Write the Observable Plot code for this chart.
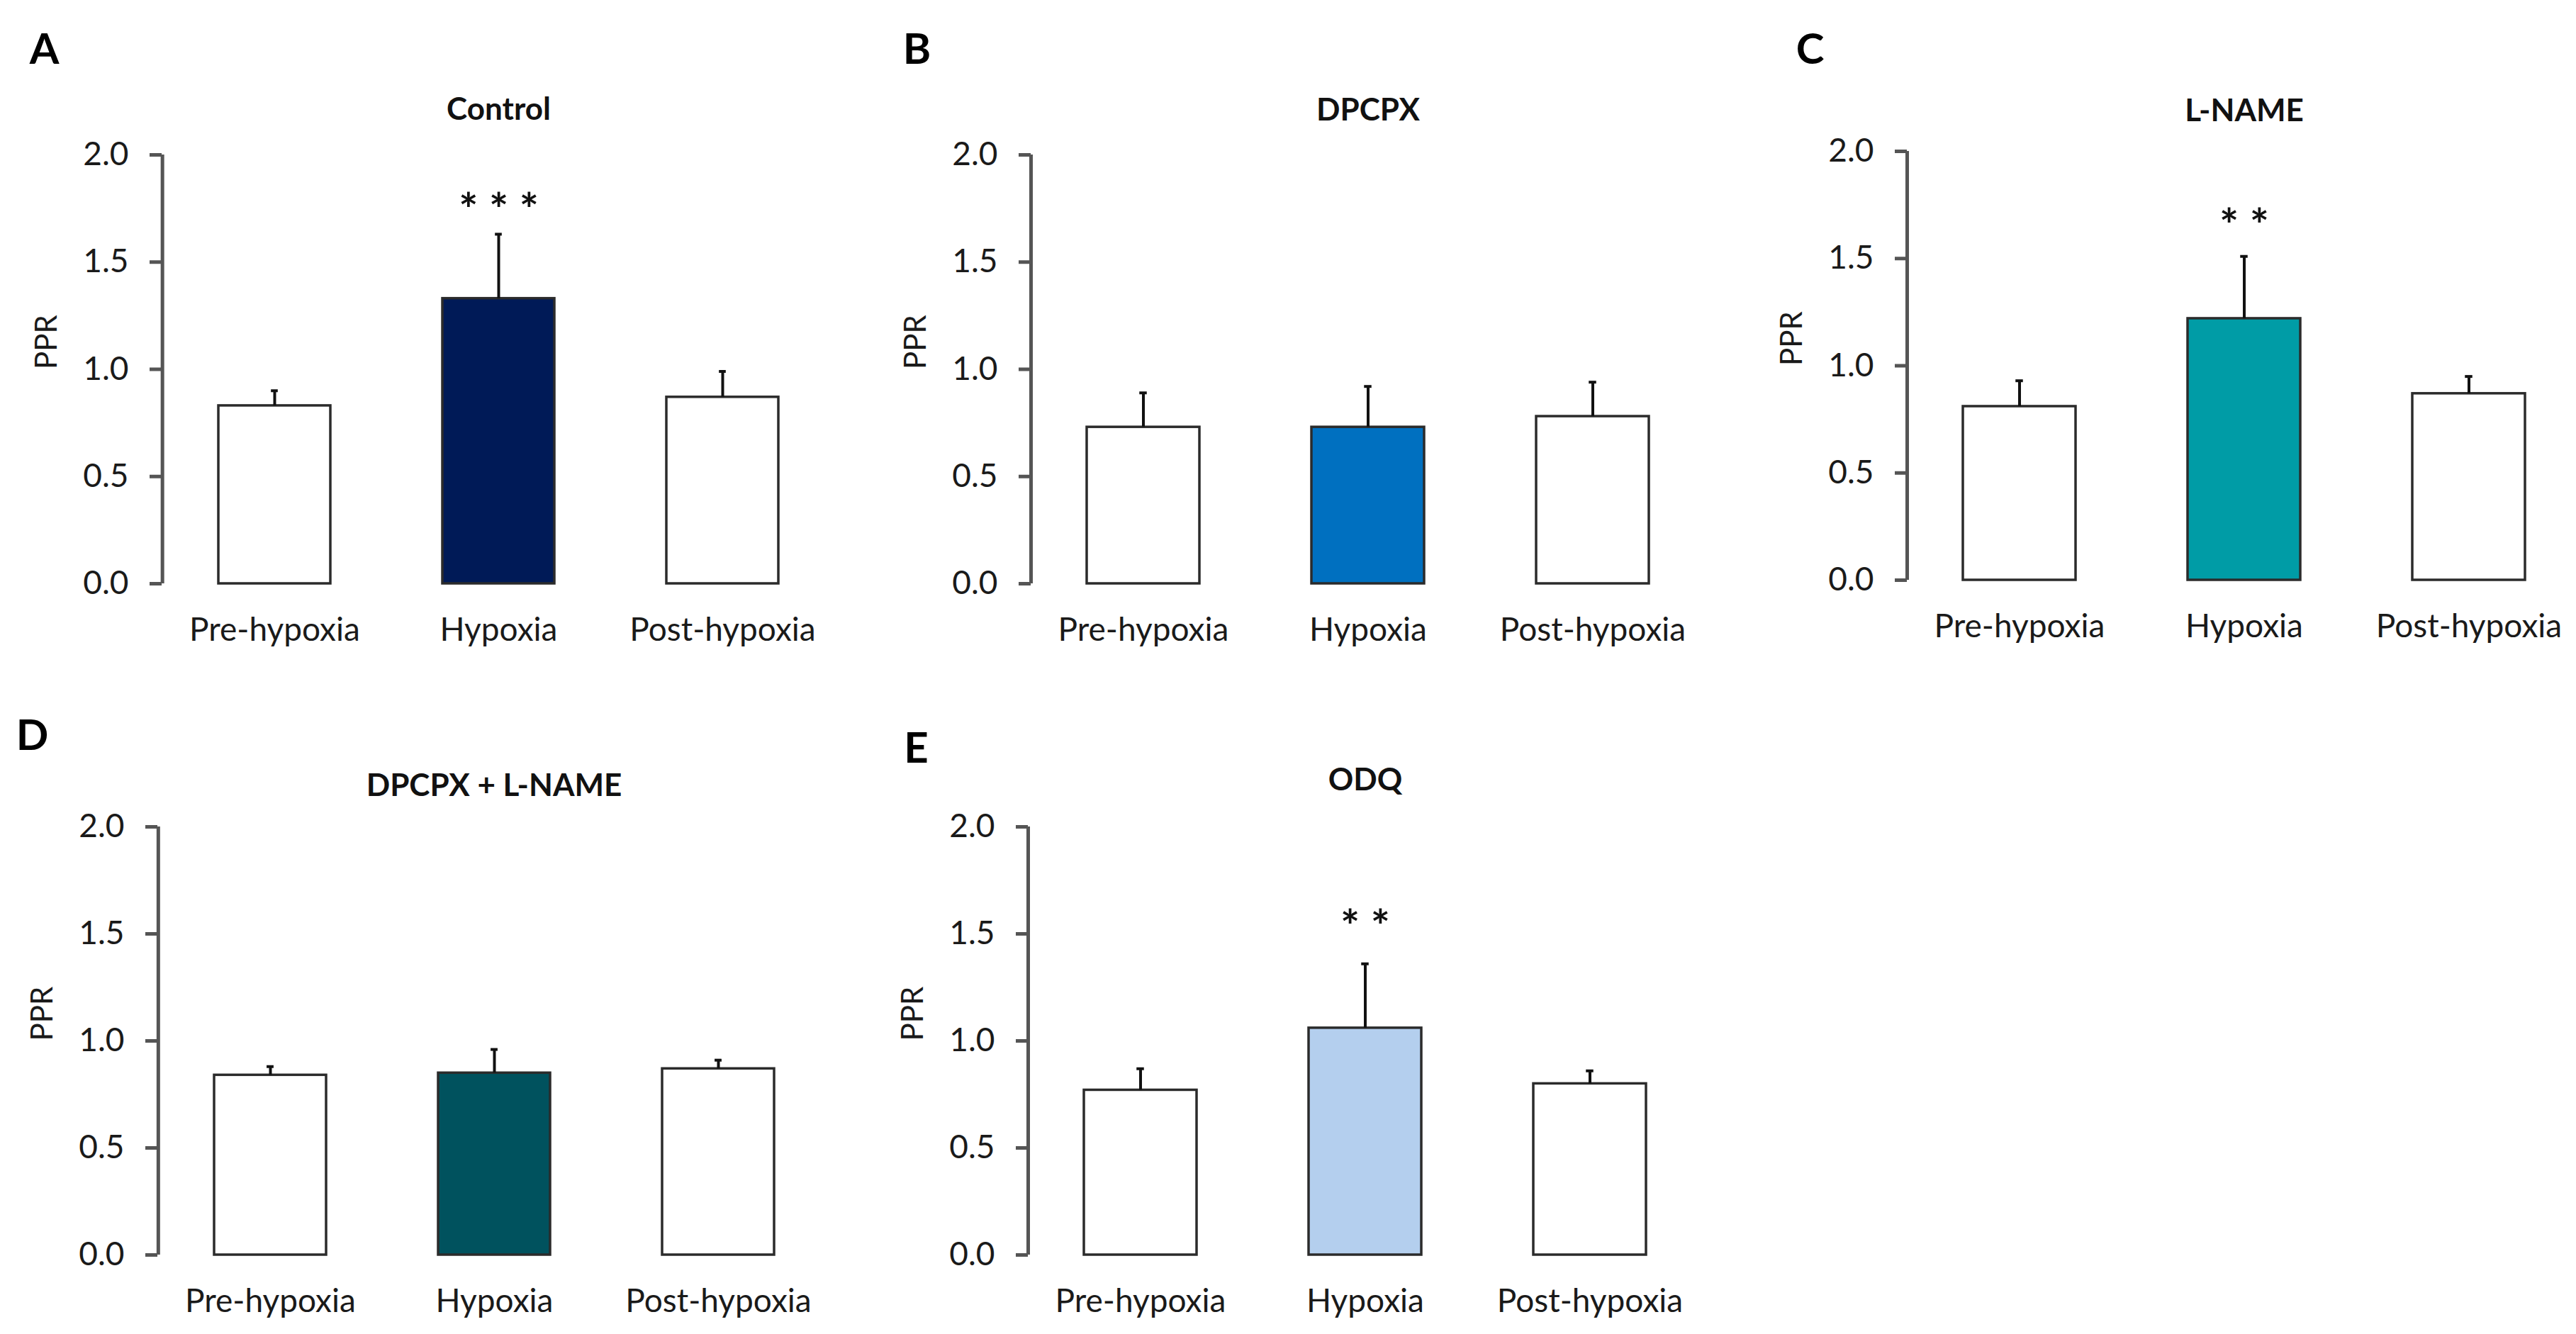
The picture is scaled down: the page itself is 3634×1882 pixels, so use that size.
<!DOCTYPE html>
<html>
<head>
<meta charset="utf-8">
<script src="https://cdn.jsdelivr.net/npm/d3@7"></script>
<script src="https://cdn.jsdelivr.net/npm/@observablehq/plot@0.6"></script>
<style>
html, body { margin: 0; padding: 0; background: #fff; overflow: hidden; }
#fig { position: relative; width: 3634px; height: 1882px; overflow: hidden; background: #fff; }
#fig svg { position: absolute; overflow: visible; }
#fig g[aria-label="y-axis tick"], #fig g[aria-label="y-axis"] path, #fig g[aria-label="y-axis"] line { stroke: #555; stroke-width: 5px; }
</style>
</head>
<body>
<div id="fig"></div>
<script>
// ---- data ----
const categories = ["Pre-hypoxia", "Hypoxia", "Post-hypoxia"];
const panelLetters = ["A", "B", "C", "D", "E"];
const panelTitles = ["Control", "DPCPX", "L-NAME", "DPCPX + L-NAME", "ODQ"];
const meansA = [0.83, 1.33, 0.87];
const meansB = [0.73, 0.73, 0.78];
const meansC = [0.81, 1.22, 0.87];
const meansD = [0.84, 0.85, 0.87];
const meansE = [0.77, 1.06, 0.80];
const semA = [0.07, 0.30, 0.12];
const semB = [0.16, 0.19, 0.16];
const semC = [0.12, 0.29, 0.08];
const semD = [0.04, 0.11, 0.04];
const semE = [0.10, 0.30, 0.06];
const hypoxiaColors = ["#001A57", "#0070C0", "#009CA6", "#00525E", "#B4CFEE"];
const significance = ["***", "", "**", "", "**"];
const significanceY = [1.79, null, 1.70, null, 1.58];
const yTicks = [0, 0.5, 1.0, 1.5, 2.0];
const yLabel = "PPR";

const means = [meansA, meansB, meansC, meansD, meansE];
const sems = [semA, semB, semC, semD, semE];

// ---- layout (pixels) ----
const layout = [
  {rangeStart: 228,  rangeEnd: 1178, y2: 218,  y0: 823,  rowTop: 0,   titleY: 154,  letterX: 62,   letterY: 70},
  {rangeStart: 1454, rangeEnd: 2405, y2: 218,  y0: 823,  rowTop: 0,   titleY: 155,  letterX: 1293, letterY: 70},
  {rangeStart: 2690, rangeEnd: 3641, y2: 213,  y0: 818,  rowTop: 0,   titleY: 156,  letterX: 2553, letterY: 70},
  {rangeStart: 222,  rangeEnd: 1171, y2: 1166, y0: 1770, rowTop: 941, titleY: 1108, letterX: 45,   letterY: 1038},
  {rangeStart: 1450, rangeEnd: 2401, y2: 1166, y0: 1770, rowTop: 941, titleY: 1100, letterX: 1292, letterY: 1056}
];
const rowHeight = 941;
const fontFamily = "Lato, 'Open Sans', sans-serif";

const fig = document.getElementById("fig");

panelLetters.forEach((letter, i) => {
  const L = layout[i];
  const data = categories.map((c, j) => ({cat: c, mean: means[i][j], top: means[i][j] + sems[i][j]}));
  const mL = 200, mR = 20;
  const span = L.rangeEnd - L.rangeStart;
  const width = mL + span + mR;
  const step = span / 3;
  const bw = step * 0.5;
  const capInset = (bw - 10) / 2;

  const marks = [
    Plot.barY(data.filter(d => d.cat !== categories[1]), {x: "cat", y: "mean", fill: "#ffffff", stroke: "#2b2b2b", strokeWidth: 3.5}),
    Plot.barY(data.filter(d => d.cat === categories[1]), {x: "cat", y: "mean", fill: hypoxiaColors[i], stroke: "#2b2b2b", strokeWidth: 3.5}),
    Plot.ruleX(data, {x: "cat", y1: "mean", y2: "top", stroke: "#111", strokeWidth: 4}),
    Plot.tickY(data, {x: "cat", y: "top", stroke: "#111", strokeWidth: 4, insetLeft: capInset, insetRight: capInset}),
    Plot.ruleX([categories[0]], {x: d => d, y1: yTicks[0], y2: yTicks[yTicks.length - 1], dx: -step / 2, stroke: "#555", strokeWidth: 5}),
    Plot.text([panelTitles[i]], {frameAnchor: "top", lineAnchor: "middle", dy: L.titleY - L.y2, fontWeight: "bold", fontSize: 44, fill: "#111"}),
    Plot.text([letter], {frameAnchor: "top-left", lineAnchor: "middle", textAnchor: "middle", dx: L.letterX - L.rangeStart, dy: L.letterY - L.y2, fontWeight: "bold", fontSize: 60, fill: "#000"}),
    Plot.text([yLabel], {frameAnchor: "left", lineAnchor: "middle", dx: -162, rotate: -90, fontSize: 42, fill: "#1a1a1a"})
  ];
  if (significance[i]) {
    marks.push(Plot.text([significance[i]], {
      x: () => categories[1], y: () => significanceY[i], dy: 16, lineAnchor: "middle",
      fontSize: 64, fontWeight: "bold", fill: "#111",
      text: d => d.split("").join("\u00a0")
    }));
  }

  const chart = Plot.plot({
    width,
    height: rowHeight,
    marginLeft: mL,
    marginRight: mR,
    marginTop: L.y2 - L.rowTop,
    marginBottom: L.rowTop + rowHeight - L.y0,
    style: {fontFamily, fontSize: "46px", color: "#1a1a1a", background: "transparent", overflow: "visible"},
    x: {domain: categories, paddingInner: 0.5, paddingOuter: 0.25, tickSize: 0, tickPadding: 48, label: null},
    y: {domain: [0, 2], ticks: yTicks, tickFormat: d3.format(".1f"), tickSize: 17, tickPadding: 30, label: null},
    marks
  });
  chart.style.left = (L.rangeStart - mL) + "px";
  chart.style.top = L.rowTop + "px";
  fig.appendChild(chart);
});
</script>
</body>
</html>
